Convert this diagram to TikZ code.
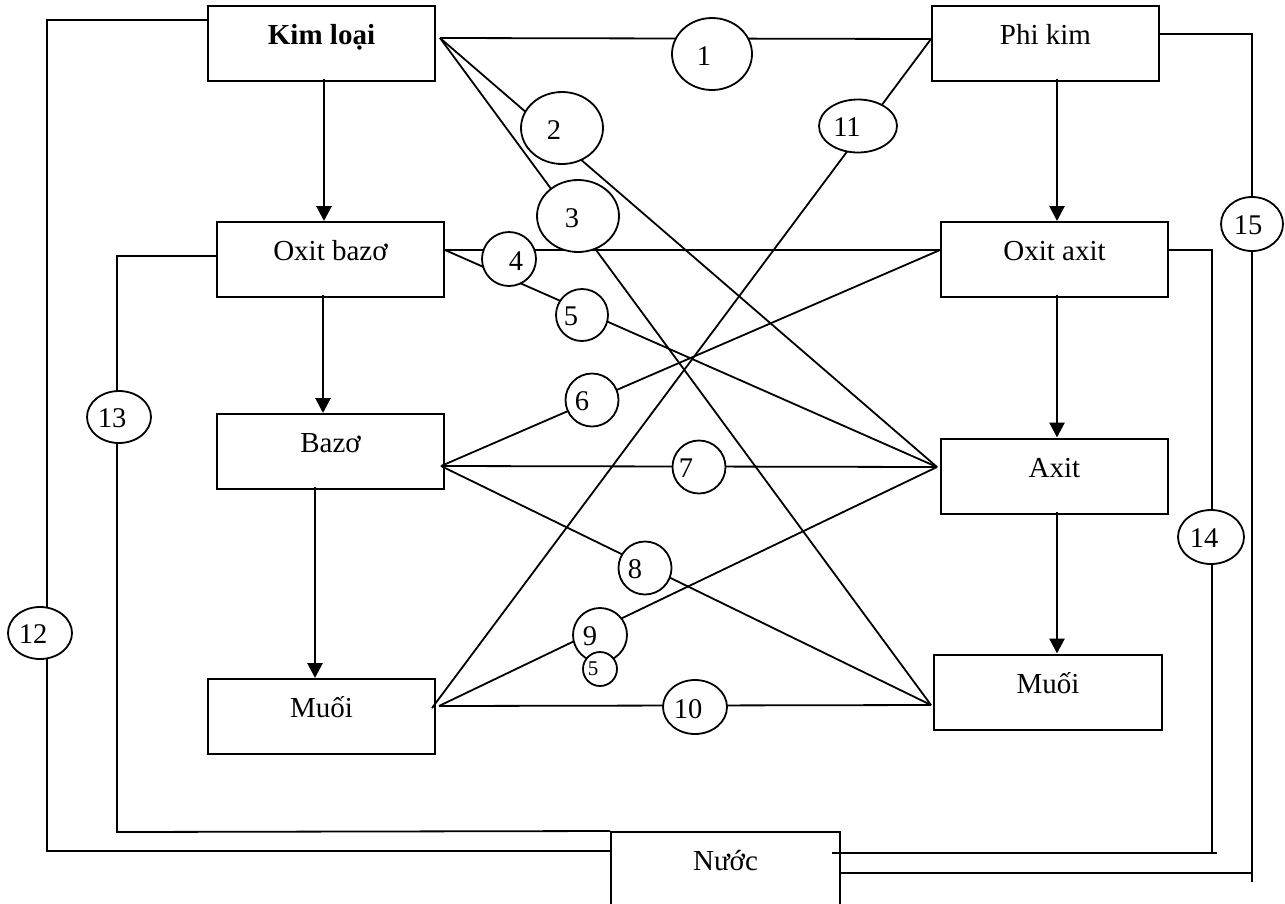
\documentclass[tikz,border=0pt]{standalone}
\usepackage{fontspec}
\setmainfont{Liberation Serif}
\usetikzlibrary{shapes.geometric,arrows.meta}
\pgfdeclarelayer{bg}
\pgfsetlayers{bg,main}
\begin{document}
\begin{tikzpicture}[x=1pt,y=-1pt,
  box/.style={draw, line width=2pt, minimum width=227pt, minimum height=75pt,
    inner sep=0pt, text height=20pt, text depth=18pt, font=\fontsize{29}{34}\selectfont},
  bub/.style 2 args={ellipse, draw, fill=white, line width=1.8pt,
    minimum width=#1pt, minimum height=#2pt, inner sep=0pt},
  num/.style={inner sep=0pt, font=\fontsize{28.5}{32}\selectfont},
  smallnum/.style={inner sep=0pt, font=\fontsize{21}{24}\selectfont},
  link/.style={line width=1.8pt},
  flow/.style={line width=2.8pt, -{Triangle[length=15pt,width=15pt]}},
  ]
\useasboundingbox (0,0) rectangle (1285,903);

% substances
\node[box] (kim)    at (321.5,43.5)  {\textbf{Kim loại}};
\node[box] (phikim) at (1045.5,43.5) {Phi kim};
\node[box] (oxbazo) at (330.5,259.5) {Oxit bazơ};
\node[box] (oxaxit) at (1054.5,259.5) {Oxit axit};
\node[box] (bazo)   at (330.5,451.5) {Bazơ};
\node[box] (axit)   at (1054.5,476)  {Axit};
\node[box] (muoiL)  at (321.5,716.5) {Muối};
\node[box, minimum width=228pt] (muoiR) at (1048,692) {Muối};
\node[box, minimum width=229pt] (nuoc)  at (725.5,869.5) {Nước};

% meeting points of the reaction lines on the box sides
\coordinate (kR)  at ([xshift=4pt,yshift=5.5pt]kim.east);
\coordinate (pL)  at ([yshift=4.5pt]phikim.west);
\coordinate (obR) at ([yshift=9.5pt]oxbazo.east);
\coordinate (oaL) at ([yshift=9.5pt]oxaxit.west);
\coordinate (bR)  at ([xshift=-4pt,yshift=-14.5pt]bazo.east);
\coordinate (aL)  at ([xshift=-3pt,yshift=9pt]axit.west);
\coordinate (mLR) at ([xshift=3pt,yshift=10.5pt]muoiL.east);
\coordinate (m11) at ([xshift=-4pt,yshift=8.5pt]muoiL.east);
\coordinate (mRL) at ([xshift=-2pt,yshift=-13pt]muoiR.west);

% vertical flow arrows
\draw[flow] ([xshift=2.5pt,yshift=3pt]kim.south) -- ([xshift=-6.5pt]oxbazo.north);
\draw[flow] ([xshift=-7.5pt,yshift=3pt]oxbazo.south) -- ([xshift=-7.5pt]bazo.north);
\draw[flow] ([xshift=-15.5pt,yshift=3pt]bazo.south) -- ([xshift=-6.5pt]muoiL.north);
\draw[flow] ([xshift=11.5pt,yshift=3pt]phikim.south) -- ([xshift=2.5pt]oxaxit.north);
\draw[flow] ([xshift=2.5pt,yshift=3pt]oxaxit.south) -- ([xshift=2.5pt]axit.north);
\draw[flow] ([xshift=2.5pt,yshift=3pt]axit.south) -- ([xshift=9pt]muoiR.north);

% numbered reaction bubbles
\node[bub={80}{72}] (c1)  at (712,54)  {};
\node[bub={82}{72}] (c2)  at (562,128) {};
\node[bub={54}{54}] (c4)  at (509,259) {};
\node[bub={82}{72}] (c3)  at (578,216) {};
\node[bub={52}{52}] (c5)  at (582,315) {};
\node[bub={53}{53}] (c6)  at (592,400) {};
\node[bub={53}{53}] (c7)  at (699,467) {};
\node[bub={53}{53}] (c8)  at (645,568) {};
\node[bub={54}{54}] (c9)  at (600,635) {};
\node[bub={34}{34}] (c5b) at (600,669) {};
\node[bub={64}{54}] (c10) at (695,707) {};
\node[bub={78}{53}] (c11) at (858,126) {};
\node[bub={64}{52}] (c12) at (40,633)  {};
\node[bub={64}{52}] (c13) at (119,417) {};
\node[bub={66}{54}] (c14) at (1211,537) {};
\node[bub={62}{54}] (c15) at (1252,224) {};

\node[num] (n1)  at ([xshift=-8pt,yshift=-2pt]c1)  {1};
\node[num] (n2)  at ([xshift=-8pt,yshift=-2pt]c2)  {2};
\node[num] (n3)  at ([xshift=-6pt,yshift=-2pt]c3)  {3};
\node[num] (n4)  at ([xshift=7pt,yshift=-2pt]c4)   {4};
\node[num] (n5)  at ([xshift=-11pt,yshift=-1pt]c5) {5};
\node[num] (n6)  at ([xshift=-10pt,yshift=-1pt]c6) {6};
\node[num] (n7)  at ([xshift=-13pt,yshift=-1pt]c7) {7};
\node[num] (n8)  at ([xshift=-10pt,yshift=-1pt]c8) {8};
\node[num] (n9)  at ([xshift=-10pt,yshift=-1pt]c9) {9};
\node[smallnum] (n5b) at ([xshift=-7pt]c5b) {5};
\node[num] (n10) at ([xshift=-7pt,yshift=-2pt]c10) {10};
\node[num] (n11) at ([xshift=-11pt,yshift=-1pt]c11) {11};
\node[num] (n12) at ([xshift=-7pt,yshift=-1pt]c12) {12};
\node[num] (n13) at ([xshift=-7pt,yshift=-1pt]c13) {13};
\node[num] (n14) at ([xshift=-7pt,yshift=-1pt]c14) {14};
\node[num] (n15) at ([xshift=-4pt,yshift=-1pt]c15) {15};

% reaction lines, beneath the bubbles
\begin{pgfonlayer}{bg}
\draw[link] (kR) -- (pL);
\draw[link] (kR) -- (aL);
\draw[link] (kR) -- (mRL);
\draw[link] (obR) -- (oaL);
\draw[link] (obR) -- (aL);
\draw[link] (bR) -- (oaL);
\draw[link] (bR) -- (aL);
\draw[link] (bR) -- (mRL);
\draw[link] (mLR) -- (aL);
\draw[link] (mLR) -- (mRL);
\draw[link] (m11) -- (pL);
% reactions with water
\draw[link] ([yshift=23.5pt]kim.west) -- (47,20) -- (47,851) -- ([yshift=18.5pt]nuoc.west);
\draw[link] ([yshift=3.5pt]oxbazo.west) -- (117,256) -- (117,832) -- (nuoc.north west);
\draw[link] ([yshift=9.5pt]oxaxit.east) -- (1212,250) -- (1212,853);
\draw[link] (1217,853) -- ([xshift=-9pt,yshift=16.5pt]nuoc.east);
\draw[link] ([xshift=-2pt,yshift=9.5pt]phikim.east) -- (1252,34) -- (1252,882);
\draw[link] (1252,873) -- ([yshift=-3.5pt]nuoc.east);
\end{pgfonlayer}
\end{tikzpicture}
\end{document}
